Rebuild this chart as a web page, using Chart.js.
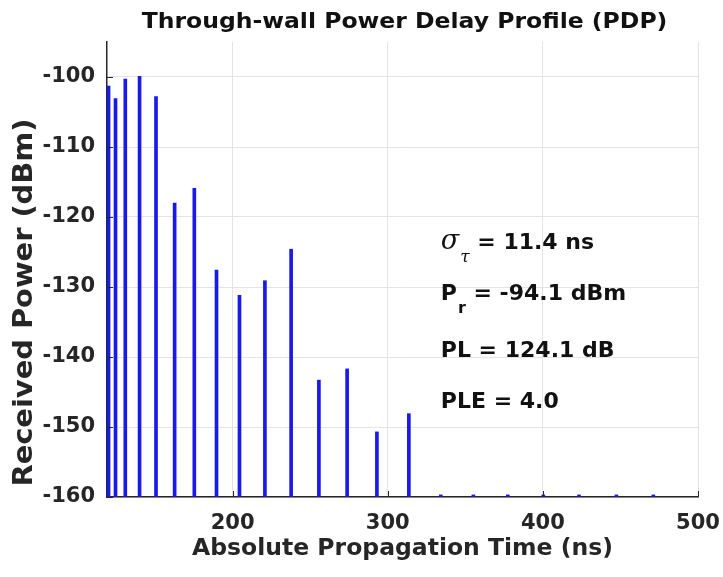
<!DOCTYPE html>
<html><head><meta charset="utf-8">
<script src="https://cdn.jsdelivr.net/npm/chart.js@4/dist/chart.umd.min.js"></script>
<style>html,body{margin:0;padding:0;background:#fff}#wrap{width:723px;height:577px}</style>
</head><body><div id="wrap"><canvas id="c" width="723" height="577"></canvas></div>
<script>
// ---- data ----
const delays = [120.0, 124.5, 130.8, 140.0, 150.6, 162.6, 175.3, 189.6, 204.4, 220.8, 237.7, 255.6, 273.8, 293.0, 313.6, 334.2, 355.2, 377.4, 400.3, 423.3, 447.4, 471.2];
const powers = [-101.3, -103.1, -100.3, -99.9, -102.8, -118.0, -115.9, -127.6, -131.2, -129.1, -124.6, -143.3, -141.7, -150.7, -148.1, -159.7, -159.7, -159.7, -159.7, -159.7, -159.7, -159.7];
const floorPower = -160;
const xTickValues = [200, 300, 400, 500];
const yTickValues = [-100, -110, -120, -130, -140, -150, -160];
const xRange = [119, 500];
const yRange = [-160, -95];
const titleText = 'Through-wall Power Delay Profile (PDP)';
const xTitle = 'Absolute Propagation Time (ns)';
const yTitle = 'Received Power (dBm)';
const annotSymbols = ['σ', 'P', 'PL', 'PLE'];
const annotSubs = ['τ', 'r', '', ''];
const annotValues = ['= 11.4 ns', '= -94.1 dBm', '= 124.1 dB', '= 4.0'];
const annotAnchorX = 334.2;
const annotAnchorY = [-124.5, -131.9, -140.0, -147.3];

const FONT = '"DejaVu Sans", sans-serif';
const AXIS = '#262626';

const stemData = delays.map((t, i) => ({x: t, y: [floorPower, powers[i]]}));

const extras = {
  id: 'extras',
  afterDraw(chart) {
    const ctx = chart.ctx;
    const area = chart.chartArea;
    ctx.save();
    ctx.textAlign = 'center';
    ctx.textBaseline = 'alphabetic';
    // title (slightly widened like the reference)
    ctx.fillStyle = '#111';
    ctx.font = 'bold 21px ' + FONT;
    ctx.save();
    ctx.translate((area.left + area.right) / 2 + 2, 27.7);
    ctx.scale(1.12, 1);
    ctx.fillText(titleText, 0, 0);
    ctx.restore();
    // y-axis title (slightly lengthened like the reference)
    ctx.fillStyle = AXIS;
    ctx.font = 'bold 26px ' + FONT;
    ctx.save();
    ctx.translate(32, 302.5);
    ctx.rotate(-Math.PI / 2);
    ctx.scale(1.11, 1);
    ctx.fillText(yTitle, 0, 0);
    ctx.restore();
    ctx.restore();
  },
  afterDatasetsDraw(chart) {
    const ctx = chart.ctx;
    const xs = chart.scales.x, ys = chart.scales.y;
    const area = chart.chartArea;
    ctx.save();
    // inward tick marks
    ctx.strokeStyle = AXIS; ctx.lineWidth = 1;
    xTickValues.forEach(v => {
      const px = Math.round(xs.getPixelForValue(v)) + 0.5;
      ctx.beginPath(); ctx.moveTo(px, area.bottom); ctx.lineTo(px, area.bottom - 6); ctx.stroke();
    });
    yTickValues.forEach(v => {
      const py = Math.round(ys.getPixelForValue(v)) + 0.5;
      ctx.beginPath(); ctx.moveTo(area.left, py); ctx.lineTo(area.left + 6, py); ctx.stroke();
    });
    // annotations
    ctx.fillStyle = '#111';
    ctx.textBaseline = 'alphabetic';
    ctx.textAlign = 'left';
    annotSymbols.forEach((s, i) => {
      const x0 = xs.getPixelForValue(annotAnchorX);
      const y0 = ys.getPixelForValue(annotAnchorY[i]);
      let x = x0;
      if (s === 'σ') ctx.font = 'italic 27px "DejaVu Serif", serif';
      else ctx.font = 'bold 22px ' + FONT;
      ctx.fillText(s, x, y0);
      x += ctx.measureText(s).width;
      if (annotSubs[i]) {
        if (annotSubs[i] === 'τ') ctx.font = 'italic 17px "DejaVu Serif", serif';
        else ctx.font = 'bold 16px ' + FONT;
        const sx = x + 1;
        ctx.fillText(annotSubs[i], sx, y0 + 13);
        x = Math.max(x, sx + ctx.measureText(annotSubs[i]).width);
      }
      ctx.font = 'bold 22px ' + FONT;
      x += ctx.measureText(' ').width;
      ctx.fillText(annotValues[i], x, y0);
    });
    ctx.restore();
  }
};

new Chart(document.getElementById('c'), {
  type: 'bar',
  data: {
    datasets: [{
      data: stemData,
      backgroundColor: 'rgb(25,25,235)',
      borderWidth: 0,
      barThickness: 3,
      grouped: false
    }]
  },
  options: {
    responsive: false,
    animation: false,
    devicePixelRatio: 1,
    layout: {padding: {left: 0, right: 25, top: 42, bottom: 0}},
    plugins: {
      legend: {display: false},
      tooltip: {enabled: false},
      title: {display: false}
    },
    scales: {
      x: {
        type: 'linear', min: xRange[0], max: xRange[1], offset: false,
        afterBuildTicks: s => { s.ticks = xTickValues.map(v => ({value: v})); },
        afterFit: s => { s.height = 80; s.paddingLeft = 0; s.paddingRight = 0; },
        grid: {color: '#e3e3e3', lineWidth: 1, drawTicks: false, offset: false},
        border: {display: true, color: AXIS, width: 1.5},
        ticks: {color: AXIS, padding: 14, font: {family: FONT, size: 21, weight: 'bold'}, maxRotation: 0},
        title: {display: true, text: xTitle, color: AXIS, font: {family: FONT, size: 23.5, weight: 'bold', lineHeight: 1.2}, padding: {top: 0, bottom: 14.5}}
      },
      y: {
        type: 'linear', min: yRange[0], max: yRange[1],
        afterBuildTicks: s => { s.ticks = yTickValues.map(v => ({value: v})); },
        afterFit: s => { s.width = 107; s.paddingTop = 0; s.paddingBottom = 0; },
        grid: {color: '#e3e3e3', lineWidth: 1, drawTicks: false},
        border: {display: true, color: AXIS, width: 1.5},
        ticks: {color: AXIS, padding: 12, font: {family: FONT, size: 21, weight: 'bold'}},
        title: {display: false}
      }
    }
  },
  plugins: [extras]
});
</script>
</body></html>
